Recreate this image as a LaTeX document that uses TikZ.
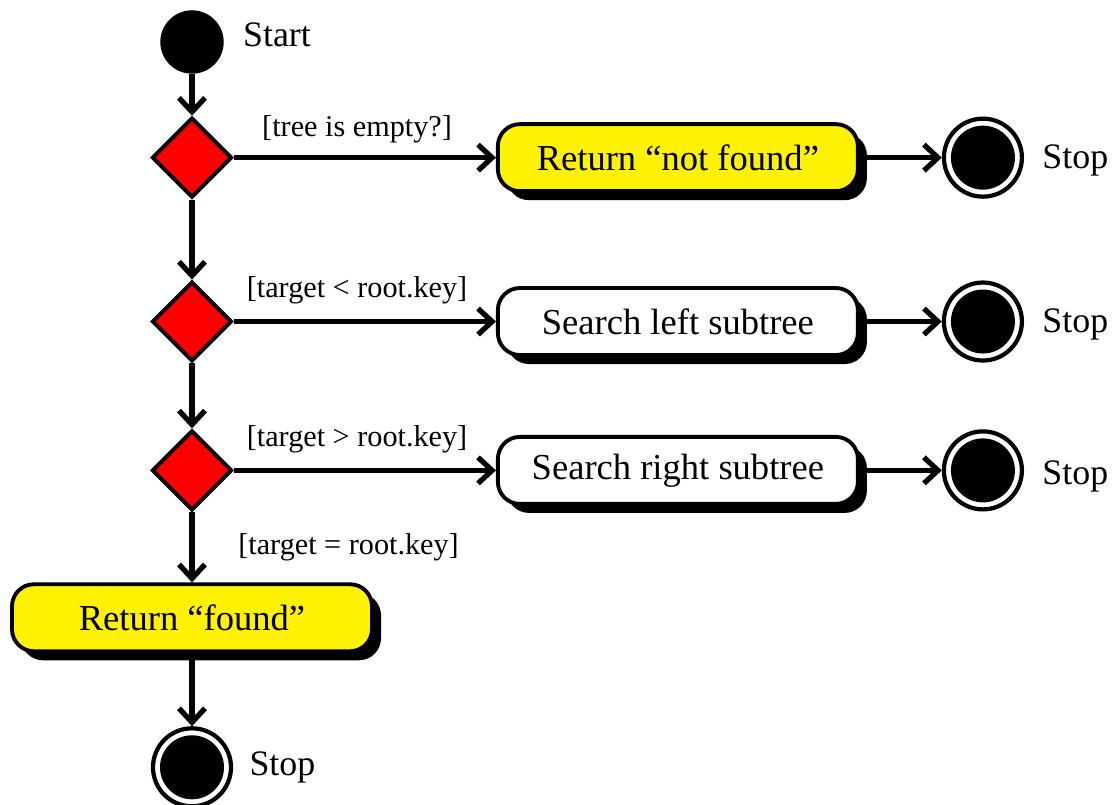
\documentclass[tikz,border=0pt]{standalone}
\usepackage{fontspec}
\setmainfont{Liberation Serif}
\usetikzlibrary{positioning,arrows.meta,shapes.geometric,shadows}

\begin{document}
\begin{tikzpicture}[
  >={Straight Barb[length=1.4mm,width=2.6mm]},
  flow/.style={->,line width=1.5pt},
  startdot/.style={circle,draw,fill=black,minimum size=6.2mm,inner sep=0pt},
  decision/.style={diamond,draw,fill=red,line width=1.1pt,minimum width=8mm,
                   minimum height=8mm,inner sep=0pt},
  action/.style={draw,rounded corners=2.2mm,line width=1.1pt,fill=white,
                 minimum width=36mm,minimum height=6.7mm,font=\fontsize{10.4}{12}\selectfont,
                 drop shadow={shadow xshift=0.9mm,shadow yshift=-0.9mm,opacity=1,fill=black}},
  hilite/.style={fill=yellow},
  stopdot/.style={circle,draw,line width=1.2pt,fill=white,minimum size=7.8mm,inner sep=0pt,
                  path picture={\fill[black] (path picture bounding box.center) circle (3.2mm);}},
  tag/.style={font=\fontsize{10.2}{12}\selectfont},
  guard/.style={font=\fontsize{8.6}{10}\selectfont}]
  \def\gap{26.2mm}
  \useasboundingbox (-1.92,0.42) rectangle (9.23,-7.62);
  %  -- - main column  -- -
  \node[startdot] (start) at (0,0) {};
  \node[tag, right=0.7mm of start, yshift=0.7mm] (startlbl) {Start};
  \node[decision, below=4.2mm of start] (d1) {};
  \node[decision, below=8mm of d1] (d2) {};
  \node[decision, below=6.5mm of d2] (d3) {};
  \node[action, hilite, below=7mm of d3] (bf) {Return “found”};
  \node[stopdot, below=7.3mm of bf] (s4) {};
  \node[tag, right=0.4mm of s4] (s4lbl) {Stop};
  \draw[flow] (start) -- (d1); \draw[flow] (d1) -- (d2); \draw[flow] (d2) -- (d3);
  \draw[flow] (d3) -- node[guard, right=3.2mm] {[target = root.key]} (bf);
  \draw[flow] (bf) -- (s4);
  %  -- - tree is empty  -- -
  \node[action, hilite, right=\gap of d1] (b1) {Return “not found”};
  \node[stopdot, right=8.2mm of b1] (s1) {};
  \node[tag, right=0.6mm of s1, yshift=-0.3mm] (s1lbl) {Stop};
  \draw[flow] (d1) -- node[guard, pos=0.47, above=0mm] {[tree is empty?]} (b1);
  \draw[flow] (b1) -- (s1);
  %  -- - go left  -- -
  \node[action, right=\gap of d2] (b2) {Search left subtree};
  \node[stopdot, right=8.2mm of b2] (s2) {};
  \node[tag, right=0.6mm of s2, yshift=-0.3mm] (s2lbl) {Stop};
  \draw[flow] (d2) -- node[guard, pos=0.47, above=0.3mm] {[target < root.key]} (b2);
  \draw[flow] (b2) -- (s2);
  %  -- - go right  -- -
  \node[action, right=\gap of d3] (b3) {Search right subtree};
  \node[stopdot, right=8.2mm of b3] (s3) {};
  \node[tag, right=0.6mm of s3, yshift=-0.6mm] (s3lbl) {Stop};
  \draw[flow] (d3) -- node[guard, pos=0.47, above=0.3mm] {[target > root.key]} (b3);
  \draw[flow] (b3) -- (s3);
\end{tikzpicture}
\end{document}
